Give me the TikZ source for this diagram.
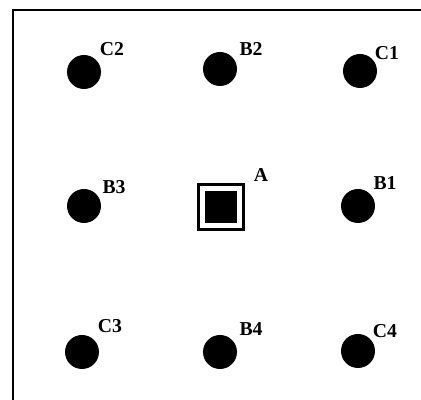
\documentclass[tikz,border=0pt]{standalone}
\usepackage{fontspec}
\setmainfont{Liberation Serif}
\usepackage{tikz}

\begin{document}
\begin{tikzpicture}[dot/.style={circle,fill=black,inner sep=0pt,minimum size=0.85cm},
lab/.style={inner sep=0pt,font=\fontsize{14}{16}\selectfont\bfseries},
pin/.style={draw=black,line width=2.1pt,inner sep=0pt,minimum size=1.125cm}]
\useasboundingbox (0,0) rectangle (10.525,-10);
\coordinate (lowleft) at (0.325,-10);
\coordinate (topleft) at (0.325,-0.25);
\coordinate (topright) at (10.525,-0.25);
\draw[line width=2.1pt](lowleft)--(topleft)--(topright);
\node[dot](C2) at (2.1,-1.8){};
\node[dot](B2) at (5.5,-1.725){};
\node[dot](C1) at (9,-1.775){};
\node[dot](B3) at (2.1,-5.15){};
\node[pin](A) at (5.525,-5.175){};
\node[fill=black,inner sep=0pt,minimum size=0.8cm](Ain) at (A.center){};
\node[dot](B1) at (8.95,-5.15){};
\node[dot](C3) at (2.05,-8.8){};
\node[dot](B4) at (5.5,-8.8){};
\node[dot](C4) at (8.95,-8.775){};
\node[lab](tC2) at (2.8,-1.225){C2};
\node[lab](tB2) at (6.275,-1.225){B2};
\node[lab](tC1) at (9.675,-1.325){C1};
\node[lab](tB3) at (2.85,-4.675){B3};
\node[lab](tA) at (6.525,-4.375){A};
\node[lab](tB1) at (9.625,-4.575){B1};
\node[lab](tC3) at (2.75,-8.15){C3};
\node[lab](tB4) at (6.275,-8.225){B4};
\node[lab](tC4) at (9.625,-8.275){C4};
\end{tikzpicture}
\end{document}
